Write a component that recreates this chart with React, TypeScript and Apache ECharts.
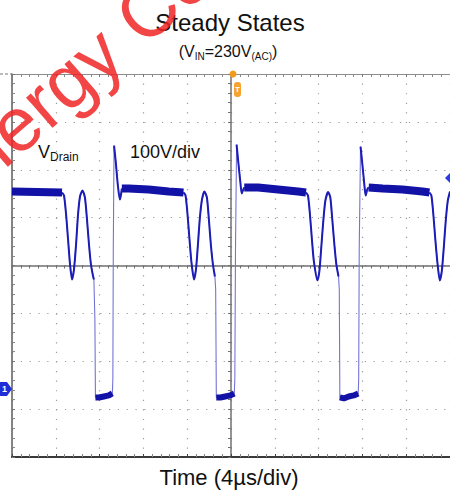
import React, { useEffect, useRef } from "react";
import * as echarts from "echarts";

// Time axis: 4 µs/div, 10 divisions; voltage axis: 100 V/div, 8 divisions (relative to screen centre)
const timeMin = -20;
const timeMax = 20;
const timeStep = 4;
const voltMin = -400;
const voltMax = 400;
const voltStep = 100;

// Drain voltage trace (µs, V relative to centre line)
const timeUs = [
  -20, -15.43, -15.25, -15.06, -14.88, -14.7, -14.52, -14.34, -14.15, -13.97, -13.79, -13.56, -13.34, -13.15,
  -12.97, -12.79, -12.61, -12.52, -12.43, -12.38, -12.06, -11.61, -11.15, -10.84, -10.79, -10.75, -10.68, -10.52,
  -10.34, -10.15, -10.06, -9.97, -9.34, -7.52, -5.7, -4.34, -4.15, -3.97, -3.79, -3.61, -3.38, -3.2, -3.02, -2.84,
  -2.65, -2.43, -2.2, -2.02, -1.84, -1.65, -1.47, -1.4, -1.34, -0.97, -0.52, -0.06, 0.3, 0.35, 0.41, 0.51, 0.66,
  0.85, 0.98, 1.12, 1.21, 2.48, 4.3, 6.12, 6.85, 7.03, 7.21, 7.39, 7.57, 7.89, 8.07, 8.25, 8.44, 8.62, 8.87, 9.07,
  9.25, 9.44, 9.62, 9.82, 9.89, 9.94, 10.3, 10.75, 11.21, 11.62, 11.66, 11.71, 11.83, 11.98, 12.16, 12.3, 12.44,
  12.57, 13.85, 15.66, 17.48, 18.12, 18.3, 18.48, 18.66, 18.85, 19.07, 19.25, 19.44, 19.62, 19.8, 20,
];
const drainV = [
  154.5, 152.4, 146.2, 106.5, 54.3, 2.1, -29.2, -8.4, 43.8, 106.5, 144.1, 156.6, 142, 96,
  43.8, 2.1, -20.9, -29.2, -112.8, -275.6, -275.6, -273.5, -271.4, -267.3, -238, 33.4, 250.6, 215.1,
  169.1, 137.8, 146.2, 160.8, 160.8, 158.7, 154.5, 152.4, 146.2, 106.5, 54.3, 6.3, -29.2, -8.4, 43.8, 100.2,
  137.8, 154.5, 142, 96, 43.8, 2.1, -23, -50.1, -275.6, -275.6, -273.5, -271.4, -267.3, -238, 33.4, 252.6, 217.2,
  175.4, 150.3, 158.7, 162.9, 162.9, 158.7, 154.5, 152.4, 146.2, 106.5, 54.3, 8.4, -31.3, -12.5, 39.7, 96, 135.7, 153.5, 142,
  96, 43.8, 2.1, -23, -50.1, -275.6, -277.7, -273.5, -271.4, -267.3, -238, 33.4, 248.5, 215.1, 173.3, 146.2, 158.7,
  162.9, 160.8, 158.7, 154.5, 152.4, 146.2, 106.5, 54.3, 6.3, -31.3, -12.5, 39.7, 96, 135.7, 154.5,
];

// Time windows (µs) of the different parts of the waveform
const ringWindows = [
  [-15.43, -12.52], [-10.68, -9.97], [-4.34, -1.47], [0.51, 1.21], [6.85, 9.82], [11.83, 12.57], [18.12, 20],
];
const plateauWindows = [[-20, -15.43], [-9.97, -4.34], [1.21, 6.85], [12.57, 18.12]];
const lowWindows = [[-12.38, -10.84], [-1.34, 0.3], [9.94, 11.62]];

const FONT = "'Liberation Sans', Arial, Helvetica, sans-serif";

function pick(a: number, b: number) {
  const out: number[][] = [];
  timeUs.forEach((t, i) => {
    if (t >= a - 1e-9 && t <= b + 1e-9) out.push([t, drainV[i]]);
  });
  return out;
}

export default function App() {
  const ref = useRef<HTMLDivElement>(null);
  useEffect(() => {
    if (!ref.current) return;
    const chart = echarts.init(ref.current, null, { renderer: "svg" });
    const series: any[] = [];
    series.push({
      type: "line",
      data: timeUs.map((t, i) => [t, drainV[i]]),
      symbol: "none",
      lineStyle: { color: "#7474d6", width: 1.1 },
      z: 3,
    });
    plateauWindows.forEach(([a, b]) =>
      series.push({
        type: "line",
        data: pick(a, b),
        symbol: "none",
        lineStyle: { color: "#1212a6", width: 8, cap: "butt" },
        z: 4,
      })
    );
    lowWindows.forEach(([a, b]) =>
      series.push({
        type: "line",
        data: pick(a, b),
        symbol: "none",
        lineStyle: { color: "#1212a6", width: 6, cap: "butt" },
        z: 4,
      })
    );
    ringWindows.forEach(([a, b]) =>
      series.push({
        type: "line",
        data: pick(a, b),
        symbol: "none",
        smooth: 0.25,
        lineStyle: { color: "#1c1cb6", width: 2 },
        z: 5,
      })
    );

    const borderAxis = (extra: any) => ({
      type: "value",
      gridIndex: 1,
      axisLabel: { show: false },
      splitLine: { show: false },
      axisTick: { show: true, inside: true, length: 3, lineStyle: { color: "#777" } },
      minorTick: { show: true, splitNumber: 5, length: 3, lineStyle: { color: "#888" } },
      ...extra,
    });

    chart.setOption({
      animation: false,
      backgroundColor: "#ffffff",
      grid: [
        { left: 12, top: 74, width: 441, height: 383, show: false },
        { left: 12, top: 74, width: 441, height: 383, show: false },
      ],
      xAxis: [
        {
          type: "value",
          gridIndex: 0,
          min: timeMin,
          max: timeMax,
          interval: timeStep,
          axisLine: { onZero: true, lineStyle: { color: "#707070", width: 1.5 } },
          axisTick: { show: true, length: 3, lineStyle: { color: "#707070" } },
          minorTick: { show: true, splitNumber: 5, length: 3, lineStyle: { color: "#707070" } },
          axisLabel: { show: false },
          splitLine: { show: true, lineStyle: { color: "#9a9a9a", width: 1.2, type: [1.2, 8.38] } },
        },
        borderAxis({
          min: timeMin,
          max: timeMax,
          interval: timeStep,
          position: "top",
          axisLine: { onZero: false, lineStyle: { color: "#8c8c8c", width: 1.2 } },
        }),
        borderAxis({
          min: timeMin,
          max: timeMax,
          interval: timeStep,
          position: "bottom",
          axisLine: { onZero: false, lineStyle: { color: "#3a3a3a", width: 2.2 } },
          axisTick: { show: true, inside: true, length: 3, lineStyle: { color: "#444" } },
        }),
      ],
      yAxis: [
        {
          type: "value",
          gridIndex: 0,
          min: voltMin,
          max: voltMax,
          interval: voltStep,
          axisLine: { onZero: true, lineStyle: { color: "#707070", width: 1.5 } },
          axisTick: { show: true, length: 3, lineStyle: { color: "#707070" } },
          minorTick: { show: true, splitNumber: 5, length: 3, lineStyle: { color: "#707070" } },
          axisLabel: { show: false },
          splitLine: { show: true, lineStyle: { color: "#9a9a9a", width: 1.2, type: [1.2, 7.62] } },
        },
        borderAxis({
          min: voltMin,
          max: voltMax,
          interval: voltStep,
          position: "left",
          axisLine: { onZero: false, lineStyle: { color: "#5a5a5a", width: 1.5 } },
        }),
      ],
      series,
      graphic: [
        {
          type: "text",
          x: 230,
          y: 22,
          style: { text: "Steady States", font: `24px ${FONT}`, fill: "#111", align: "center", verticalAlign: "middle" },
        },
        {
          type: "text",
          x: 228,
          y: 51,
          style: {
            text: "{a|(V}{b|IN}{a|=230V}{b|(AC)}{a|)}",
            align: "center",
            verticalAlign: "middle",
            fill: "#111",
            rich: {
              a: { fontSize: 16, lineHeight: 20, fontFamily: FONT, fill: "#111" },
              b: { fontSize: 10, lineHeight: 11, fontFamily: FONT, fill: "#111", verticalAlign: "bottom" },
            },
          },
        },
        {
          type: "text",
          x: 38,
          y: 152,
          style: {
            text: "{a|V}{b|Drain}",
            align: "left",
            verticalAlign: "middle",
            fill: "#111",
            rich: {
              a: { fontSize: 18, lineHeight: 22, fontFamily: FONT, fill: "#111" },
              b: { fontSize: 12, lineHeight: 13, fontFamily: FONT, fill: "#111", verticalAlign: "bottom" },
            },
          },
        },
        {
          type: "text",
          x: 130,
          y: 152,
          style: { text: "100V/div", font: `18px ${FONT}`, fill: "#111", align: "left", verticalAlign: "middle" },
        },
        {
          type: "text",
          x: 229,
          y: 477,
          style: { text: "Time (4µs/div)", font: `22px ${FONT}`, fill: "#111", align: "center", verticalAlign: "middle" },
        },
        // trigger position marker
        { type: "circle", shape: { cx: 233, cy: 74, r: 3.5 }, style: { fill: "#f29a1a" }, z: 50 },
        { type: "rect", shape: { x: 234, y: 82, width: 7, height: 15, r: 3 }, style: { fill: "#f6a330" }, z: 50 },
        {
          type: "text",
          x: 237.5,
          y: 89.5,
          style: { text: "T", font: `bold 8px ${FONT}`, fill: "#fff", align: "center", verticalAlign: "middle" },
          z: 51,
        },
        // channel 1 ground marker
        {
          type: "polygon",
          shape: { points: [[0, 382], [7, 382], [12, 389], [7, 396], [0, 396]] },
          style: { fill: "#1f2ed6" },
          z: 50,
        },
        {
          type: "text",
          x: 4.5,
          y: 389,
          style: { text: "1", font: `bold 9px ${FONT}`, fill: "#fff", align: "center", verticalAlign: "middle" },
          z: 51,
        },
        // trigger level marker
        {
          type: "polygon",
          shape: { points: [[451, 172], [445, 178], [451, 184]] },
          style: { fill: "#2a3be0" },
          z: 50,
        },
        // small dashes at top-left
        {
          type: "line",
          shape: { x1: 0, y1: 74, x2: 12, y2: 74 },
          style: { stroke: "#777", lineWidth: 1, lineDash: [3, 2] },
          z: 50,
        },
        // watermark
        {
          type: "text",
          x: -71,
          y: 200,
          rotation: (41 * Math.PI) / 180,
          style: {
            text: "Energy Co",
            font: `76px ${FONT}`,
            fill: "rgba(240, 36, 36, 0.85)",
            align: "left",
            verticalAlign: "middle",
          },
          z: 100,
        },
      ],
    });
    return () => chart.dispose();
  }, []);
  return <div ref={ref} style={{ position: "absolute", left: 0, top: 0, width: 450, height: 493 }} />;
}
